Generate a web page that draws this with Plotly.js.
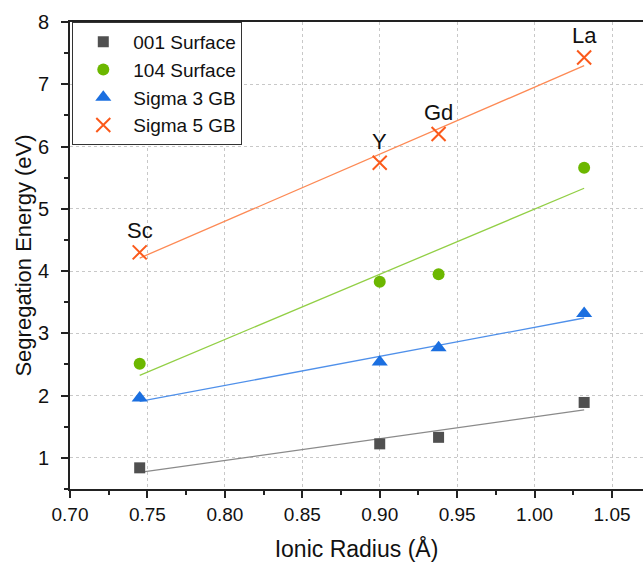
<!DOCTYPE html>
<html>
<head>
<meta charset="utf-8">
<script src="https://cdn.plot.ly/plotly-3.0.1.min.js"></script>
<style>html,body{margin:0;padding:0;background:#fff;}#chart{width:643px;height:562px;}</style>
</head>
<body>
<div id="chart"></div>
<script>
// Data
const ionicRadius = [0.745, 0.900, 0.938, 1.032];
const elements = ["Sc", "Y", "Gd", "La"];
const surface001 = [0.84, 1.225, 1.33, 1.89];
const surface104 = [2.51, 3.83, 3.95, 5.66];
const sigma3GB = [1.96, 2.54, 2.77, 3.32];
const sigma5GB = [4.30, 5.74, 6.20, 7.43];
const seriesNames = ["001 Surface", "104 Surface", "Sigma 3 GB", "Sigma 5 GB"];
const xTickVals = [0.70, 0.75, 0.80, 0.85, 0.90, 0.95, 1.00, 1.05];
const yTickVals = [1, 2, 3, 4, 5, 6, 7, 8];

function linFit(x, y) {
  const n = x.length;
  const mx = x.reduce((a, b) => a + b, 0) / n;
  const my = y.reduce((a, b) => a + b, 0) / n;
  let sxy = 0, sxx = 0;
  for (let i = 0; i < n; i++) { sxy += (x[i] - mx) * (y[i] - my); sxx += (x[i] - mx) ** 2; }
  const m = sxy / sxx, b = my - m * mx;
  const xs = [Math.min(...x), Math.max(...x)];
  return { x: xs, y: xs.map(v => m * v + b) };
}

const series = [
  { y: surface001, marker: { symbol: "square", size: 11, color: "#505050" }, line: "#8a8a8a" },
  { y: surface104, marker: { symbol: "circle", size: 12, color: "#6cb700" }, line: "#92cf45" },
  { y: sigma3GB, marker: { symbol: "triangle-up", size: 14, color: "#1b6fe0" }, line: "#4f90ea" },
  { y: sigma5GB, marker: { symbol: "x-thin-open", size: 14, color: "#fb5a1b", line: { width: 2, color: "#fb5a1b" } }, line: "#fd8a55" }
];

const traces = [];
series.forEach((s, i) => {
  const f = linFit(ionicRadius, s.y);
  traces.push({ x: f.x, y: f.y, mode: "lines", line: { color: s.line, width: 1.3 }, showlegend: false, hoverinfo: "skip" });
});
series.forEach((s, i) => {
  traces.push({ x: ionicRadius, y: s.y, mode: "markers", name: seriesNames[i], marker: s.marker });
});

const annotations = elements.map((e, i) => ({
  x: ionicRadius[i], y: sigma5GB[i], xref: "x", yref: "y", text: e, showarrow: false,
  yanchor: "bottom", yshift: 7, font: { size: 22, color: "#111", family: "Liberation Sans, Arial, sans-serif" }
}));

const layout = {
  width: 643, height: 562,
  margin: { l: 70, r: 0, t: 22, b: 73 },
  paper_bgcolor: "#fff", plot_bgcolor: "#fff",
  font: { family: "Liberation Sans, Arial, sans-serif", color: "#111" },
  showlegend: true,
  legend: {
    x: 0.004, y: 1, xanchor: "left", yanchor: "top",
    bgcolor: "#fff", bordercolor: "#333", borderwidth: 1,
    font: { size: 19, color: "#111" }, tracegroupgap: 0, itemwidth: 50
  },
  xaxis: {
    range: [0.70, 1.07], tickvals: xTickVals, ticktext: xTickVals.map(v => v.toFixed(2)),
    showline: true, linecolor: "#222", linewidth: 2, mirror: true,
    ticks: "outside", ticklen: 7, tickwidth: 2, tickcolor: "#222",
    tickfont: { size: 19, color: "#111" },
    showgrid: true, gridcolor: "#c8c8c8", griddash: "dot", gridwidth: 1, zeroline: false,
    minor: { dtick: 0.025, tick0: 0.70, ticks: "outside", ticklen: 4, tickwidth: 2, tickcolor: "#222", showgrid: false },
    title: { text: "Ionic Radius (Å)", font: { size: 23, color: "#111" }, standoff: 18 }
  },
  yaxis: {
    range: [0.5, 8], tickvals: yTickVals,
    showline: true, linecolor: "#222", linewidth: 2, mirror: false,
    ticks: "outside", ticklen: 7, tickwidth: 2, tickcolor: "#222",
    tickfont: { size: 20, color: "#111" }, ticklabelstandoff: 8,
    showgrid: true, gridcolor: "#c8c8c8", griddash: "dot", gridwidth: 1, zeroline: false,
    minor: { dtick: 0.5, tick0: 0.5, ticks: "outside", ticklen: 4, tickwidth: 2, tickcolor: "#222", showgrid: false },
    title: { text: "Segregation Energy (eV)", font: { size: 22, color: "#111" }, standoff: 0 }
  },
  annotations: annotations
};

Plotly.newPlot("chart", traces, layout, { displayModeBar: false, staticPlot: true });
</script>
</body>
</html>
